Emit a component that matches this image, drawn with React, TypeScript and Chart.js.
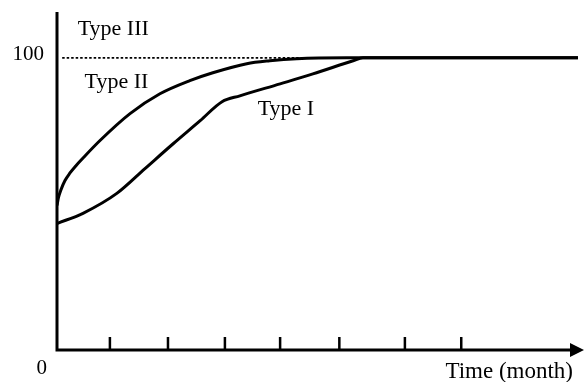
import React, { useEffect, useRef } from "react";
import { Chart, registerables } from "chart.js";

Chart.register(...registerables);

const typeIMonths = [0, 0.452, 1.04, 1.53, 2.02, 2.49, 2.87, 3.18, 3.88, 4.45, 5.15, 5.32, 9.06];
const typeIValues = [43.3, 46.8, 53.6, 62.1, 70.6, 78.5, 85.0, 87.0, 91.1, 94.5, 99.0, 100, 100];

const typeIIMonths = [0, 0.026, 0.07, 0.139, 0.226, 0.33, 0.452, 0.748, 1.27, 1.79, 2.31, 2.71, 3.3, 3.7, 4.17, 5.04, 9.06];
const typeIIValues = [49.5, 52.2, 54.9, 58.0, 60.6, 63.1, 65.7, 71.7, 80.9, 87.7, 92.2, 94.9, 98.0, 99.0, 99.7, 100, 100];

const typeIIIMonths = [0.09, 5.1];
const typeIIIValues = [100, 100];

const tickMonths = [0.92, 1.93, 2.92, 3.88, 4.91, 6.05, 7.03];

const yMax = 115.7;
const xMax = 9.13;

const textLabels = [
  { text: "Type III", x: 0.36, y: 109.8 },
  { text: "Type II", x: 0.48, y: 91.5 },
  { text: "Type I", x: 3.49, y: 82.5 },
];

export default function App() {
  const ref = useRef<HTMLCanvasElement | null>(null);
  useEffect(() => {
    if (!ref.current) return;
    const font = '"Liberation Serif", "Times New Roman", serif';
    const axesPlugin = {
      id: "axesPlugin",
      afterDatasetsDraw(chart: any) {
        const ctx = chart.ctx;
        const xs = chart.scales.x;
        const ys = chart.scales.y;
        const x0 = xs.getPixelForValue(0);
        const y0 = ys.getPixelForValue(0);
        const top = ys.getPixelForValue(yMax);
        const right = xs.getPixelForValue(xMax);
        ctx.save();
        ctx.strokeStyle = "#000";
        ctx.fillStyle = "#000";
        ctx.lineWidth = 3;
        ctx.beginPath();
        ctx.moveTo(x0, top);
        ctx.lineTo(x0, y0 + 1.5);
        ctx.moveTo(x0 - 1.5, y0);
        ctx.lineTo(right - 8, y0);
        ctx.stroke();
        ctx.beginPath();
        ctx.moveTo(right + 2, y0);
        ctx.lineTo(right - 12, y0 - 7);
        ctx.lineTo(right - 12, y0 + 7);
        ctx.closePath();
        ctx.fill();
        ctx.lineWidth = 2.5;
        ctx.beginPath();
        for (const t of tickMonths) {
          const px = xs.getPixelForValue(t);
          ctx.moveTo(px, y0);
          ctx.lineTo(px, y0 - 13);
        }
        ctx.stroke();
        ctx.font = `22px ${font}`;
        ctx.textBaseline = "middle";
        ctx.textAlign = "left";
        for (const l of textLabels) {
          ctx.fillText(l.text, xs.getPixelForValue(l.x), ys.getPixelForValue(l.y));
        }
        ctx.font = `21px ${font}`;
        ctx.textAlign = "right";
        ctx.fillText("100", x0 - 13, ys.getPixelForValue(100) - 3);
        ctx.fillText("0", x0 - 10, y0 + 18);
        ctx.font = `23px ${font}`;
        ctx.fillText("Time (month)", right - 9, y0 + 22);
        ctx.restore();
      },
    };
    const chart = new Chart(ref.current, {
      type: "line",
      data: {
        datasets: [
          {
            label: "Type III",
            data: typeIIIMonths.map((m, i) => ({ x: m, y: typeIIIValues[i] })),
            borderColor: "#000",
            borderWidth: 1.6,
            borderDash: [2.5, 2],
            pointRadius: 0,
          },
          {
            label: "Type II",
            data: typeIIMonths.map((m, i) => ({ x: m, y: typeIIValues[i] })),
            borderColor: "#000",
            borderWidth: 3,
            pointRadius: 0,
            cubicInterpolationMode: "monotone",
          },
          {
            label: "Type I",
            data: typeIMonths.map((m, i) => ({ x: m, y: typeIValues[i] })),
            borderColor: "#000",
            borderWidth: 3,
            pointRadius: 0,
            cubicInterpolationMode: "monotone",
          },
        ],
      },
      options: {
        responsive: false,
        animation: false,
        layout: { padding: { left: 57, right: 3, top: 12, bottom: 32 } },
        plugins: { legend: { display: false }, tooltip: { enabled: false } },
        scales: {
          x: { type: "linear", min: 0, max: xMax, display: false },
          y: { type: "linear", min: 0, max: yMax, display: false },
        },
      },
      plugins: [axesPlugin],
    });
    return () => chart.destroy();
  }, []);
  return (
    <div style={{ position: "fixed", left: 0, top: 0, width: 585, height: 382, background: "#fff" }}>
      <canvas ref={ref} width={585} height={382} style={{ display: "block" }} />
    </div>
  );
}
